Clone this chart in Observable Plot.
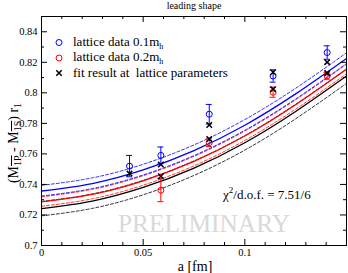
<!DOCTYPE html>
<html><head><meta charset="utf-8">
<script src="https://cdn.jsdelivr.net/npm/d3@7"></script>
<script src="https://cdn.jsdelivr.net/npm/@observablehq/plot@0.6"></script>
<style>body{margin:0;background:#fff} svg{display:block}</style>
</head><body><div id="chart"></div>
<script>
// lattice spacing grid for the continuum curves
const aGrid = [0, 0.025, 0.05, 0.075, 0.1, 0.125, 0.15];
const blueUp  = [0.7394, 0.7443, 0.7532, 0.7659, 0.7825, 0.8030, 0.8262];
const blueMid = [0.7357, 0.7406, 0.7495, 0.7622, 0.7788, 0.7993, 0.8225];
const blueLo  = [0.7324, 0.7373, 0.7462, 0.7589, 0.7755, 0.7960, 0.8192];
const redUp   = [0.7319, 0.7368, 0.7457, 0.7584, 0.7750, 0.7955, 0.8187];
const redMid  = [0.7286, 0.7335, 0.7424, 0.7551, 0.7717, 0.7922, 0.8154];
const redLo   = [0.7257, 0.7306, 0.7395, 0.7522, 0.7688, 0.7893, 0.8125];
const blackUp = [0.7289, 0.7338, 0.7427, 0.7554, 0.7720, 0.7925, 0.8157];
const blackMid= [0.7242, 0.7291, 0.7380, 0.7507, 0.7673, 0.7878, 0.8110];
const blackLo = [0.7194, 0.7243, 0.7332, 0.7459, 0.7625, 0.7830, 0.8062];

// lattice data 0.1 m_h
const aBlue = [0.0433, 0.0587, 0.0825, 0.1139, 0.1405];
const yBlue = [0.7520, 0.7590, 0.7860, 0.8110, 0.8264];
const eBlue = [0.0070, 0.0055, 0.0064, 0.0040, 0.0044];
// lattice data 0.2 m_h
const aRed = [0.0587, 0.0825, 0.1139, 0.1405];
const yRed = [0.7362, 0.7673, 0.8004, 0.8111];
const eRed = [0.0075, 0.0025, 0.0033, 0.0022];
// fit result at lattice parameters
const aFit = [0.0433, 0.0587, 0.0825, 0.1139, 0.1405, 0.0587, 0.0825, 0.1139, 0.1405];
const yFit = [0.7471, 0.7531, 0.7789, 0.8135, 0.8201, 0.7454, 0.7697, 0.8024, 0.8129];

const xTickLabels = [0, 0.05, 0.1];
const xMajor = [0, 0.05, 0.1, 0.15];
const xMinor = [0.01,0.02,0.03,0.04,0.06,0.07,0.08,0.09,0.11,0.12,0.13,0.14];
const yTickLabels = [0.7, 0.72, 0.74, 0.76, 0.78, 0.8, 0.82, 0.84];
const yMinor = [0.71, 0.73, 0.75, 0.77, 0.79, 0.81, 0.83, 0.85];

const BLUE = "#0000ff", RED = "#ff0000";
const W = 348, H = 273, ML = 41, MR = 2, MT = 16, MB = 28;
const FW = W - ML - MR, FH = H - MT - MB;

const curves = [
  {v: blackLo, c: "black", d: true}, {v: blackUp, c: "black", d: true}, {v: blackMid, c: "black", d: false},
  {v: redLo, c: RED, d: true}, {v: redUp, c: RED, d: true}, {v: redMid, c: RED, d: false},
  {v: blueLo, c: BLUE, d: true}, {v: blueUp, c: BLUE, d: true}, {v: blueMid, c: BLUE, d: false}
];
const blueData = aBlue.map((a, i) => ({a, y: yBlue[i], e: eBlue[i]}));
const redData = aRed.map((a, i) => ({a, y: yRed[i], e: eRed[i]}));
const fitData = aFit.map((a, i) => ({a, y: yFit[i]}));

// inward ticks on all four sides of the frame
const tickMarks = (len, xs, ys) => [
  Plot.ruleX(xs, {x: d => d, insetTop: FH - len, stroke: "black"}),
  Plot.ruleX(xs, {x: d => d, insetBottom: FH - len, stroke: "black"}),
  Plot.ruleY(ys, {y: d => d, insetRight: FW - len, stroke: "black"}),
  Plot.ruleY(ys, {y: d => d, insetLeft: FW - len, stroke: "black"})
];

const errMarks = (data, col) => [
  Plot.ruleX(data, {x: "a", y1: d => d.y - d.e, y2: d => d.y + d.e, stroke: col, strokeWidth: 1}),
  Plot.ruleY(data, {y: d => d.y + d.e, x1: "a", x2: "a", insetLeft: -3, insetRight: -3, stroke: col, strokeWidth: 1}),
  Plot.ruleY(data, {y: d => d.y - d.e, x1: "a", x2: "a", insetLeft: -3, insetRight: -3, stroke: col, strokeWidth: 1}),
  Plot.dot(data, {x: "a", y: "y", r: 3, stroke: col, strokeWidth: 1, fill: "none"})
];

const plot = Plot.plot({
  width: W, height: H,
  marginLeft: ML, marginRight: MR, marginTop: MT, marginBottom: MB,
  style: {fontFamily: "'Liberation Serif', serif", fontSize: "10.5px", background: "#fff", color: "black"},
  x: {domain: [0, 0.15]},
  y: {domain: [0.7, 0.85]},
  marks: [
    ...curves.map(c => Plot.line(aGrid.map((a, i) => ({a, y: c.v[i]})), {x: "a", y: "y", stroke: c.c, strokeWidth: c.d ? 0.8 : 1.3, strokeDasharray: c.d ? "3,2" : null, curve: "natural"})),
    ...errMarks(blueData, BLUE),
    ...errMarks(redData, RED),
    Plot.dot(fitData, {x: "a", y: "y", symbol: "times", r: 2.6, stroke: "black", strokeWidth: 1.5}),
    Plot.frame({stroke: "black", strokeWidth: 1}),
    ...tickMarks(6, xMajor, yTickLabels),
    ...tickMarks(3, xMinor, yMinor),
    Plot.axisX({ticks: xTickLabels, tickSize: 0, tickPadding: 3, tickFormat: d => String(+d.toFixed(2)), label: null}),
    Plot.axisY({ticks: yTickLabels, tickSize: 0, tickPadding: 4, tickFormat: d => String(+d.toFixed(2)), label: null})
  ]
});
document.getElementById("chart").appendChild(plot);

const svg = d3.select(plot);
const F = "'Liberation Serif', serif";
// watermark (behind everything)
svg.insert("text", ":first-child").attr("x", 118).attr("y", 232).attr("text-anchor", "start").attr("font-family", F).attr("font-size", 26)
  .attr("fill", "#d9d9d9").attr("textLength", 172).attr("lengthAdjust", "spacingAndGlyphs").text("PRELIMINARY");
// title
svg.append("text").attr("x", 194).attr("y", 9).attr("text-anchor", "middle").attr("font-family", F).attr("font-size", 10).text("leading shape");
// x label
svg.append("text").attr("x", 195).attr("y", 271).attr("text-anchor", "middle").attr("font-family", F).attr("font-size", 14).text("a [fm]");
// y label
const yl = svg.append("text").attr("transform", "translate(18,143) rotate(-90)").attr("text-anchor", "middle").attr("font-family", F).attr("font-size", 14);
yl.append("tspan").text("(M");
yl.append("tspan").attr("dy", 3).attr("font-size", 10).style("text-decoration", "overline").text("1P");
yl.append("tspan").attr("dy", -3).text(" - M");
yl.append("tspan").attr("dy", 3).attr("font-size", 10).style("text-decoration", "overline").text("1S");
yl.append("tspan").attr("dy", -3).text(") r");
yl.append("tspan").attr("dy", 3).attr("font-size", 10).text("1");
// legend
const leg = svg.append("g").attr("font-family", F).attr("font-size", 13).attr("text-anchor", "start");
leg.append("circle").attr("cx", 59).attr("cy", 42.5).attr("r", 3).attr("fill", "none").attr("stroke", BLUE);
leg.append("circle").attr("cx", 59).attr("cy", 58).attr("r", 3).attr("fill", "none").attr("stroke", RED);
leg.append("path").attr("transform", "translate(59,73)").attr("d", d3.symbol(d3.symbolTimes, 21)()).attr("stroke", "black").attr("stroke-width", 1.5).attr("fill", "none");
const lt = (y, s, sub) => {
  const t = leg.append("text").attr("x", 73).attr("y", y).attr("text-anchor", "start").style("white-space", "pre");
  t.append("tspan").text(s);
  if (sub) t.append("tspan").attr("dy", 3).attr("font-size", 8).text(sub);
};
lt(45.5, "lattice data 0.1m", "h");
lt(61, "lattice data 0.2m", "h");
lt(76.5, "fit result at  lattice parameters");
// chi^2
const ch = svg.append("text").attr("x", 223).attr("y", 199).attr("text-anchor", "start").attr("font-family", F).attr("font-size", 13);
ch.append("tspan").text("χ");
ch.append("tspan").attr("dy", -6).attr("font-size", 9).text("2");
ch.append("tspan").attr("dy", 6).text("/d.o.f. = 7.51/6");
</script>
</body></html>
